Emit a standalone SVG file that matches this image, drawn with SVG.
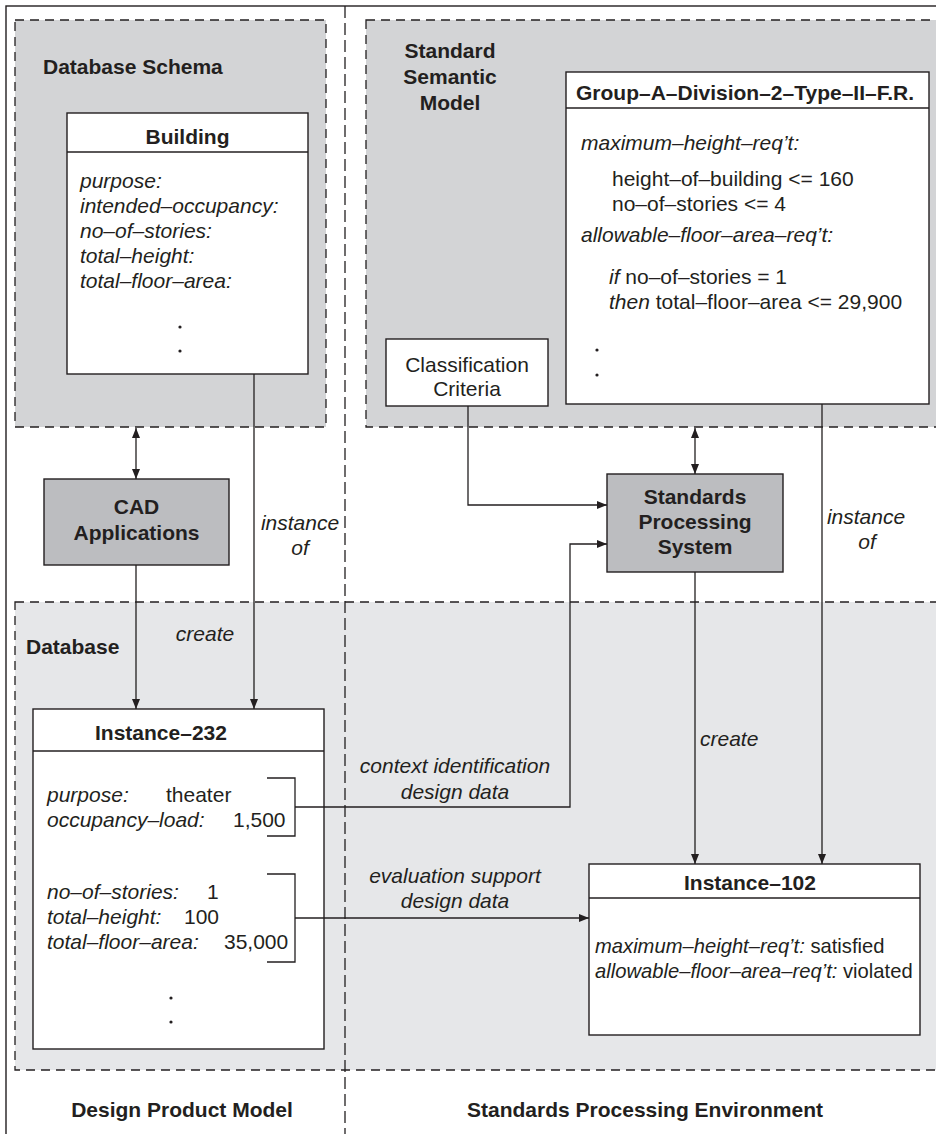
<svg xmlns="http://www.w3.org/2000/svg" width="936" height="1134" viewBox="0 0 936 1134">
  <style>
    text { font-family: "Liberation Sans", Arial, sans-serif; font-size: 21px; fill: #231f20; }
    .b { font-weight: bold; }
    .i { font-style: italic; }
    .m { text-anchor: middle; }
    .box { fill: #ffffff; stroke: #231f20; stroke-width: 1.4; }
    .proc { fill: #bcbdc0; stroke: #231f20; stroke-width: 1.4; }
    .region1 { fill: #d3d4d6; stroke: #231f20; stroke-width: 1.3; stroke-dasharray: 9 6; }
    .region2 { fill: #e6e7e9; stroke: #231f20; stroke-width: 1.3; stroke-dasharray: 9 6; }
    .divider { fill: none; stroke: #231f20; stroke-width: 1.3; stroke-dasharray: 12 5; }
    .frame { fill: none; stroke: #231f20; stroke-width: 1.4; }
    .sep { stroke: #231f20; stroke-width: 1.4; }
    .conn { fill: none; stroke: #231f20; stroke-width: 1.3; }
    .arr { marker-end: url(#ah); }
    .bi { marker-start: url(#ahs); marker-end: url(#ah); }
    .dot { fill: #231f20; }
    .small { font-size: 20.2px; }
  </style>
  <defs>
    <marker id="ah" viewBox="0 0 10 8" refX="10" refY="4" markerWidth="10" markerHeight="8" markerUnits="userSpaceOnUse" orient="auto">
      <path d="M0,0 L10,4 L0,8 Z" fill="#231f20"/>
    </marker>
    <marker id="ahs" viewBox="0 0 10 8" refX="0" refY="4" markerWidth="10" markerHeight="8" markerUnits="userSpaceOnUse" orient="auto">
      <path d="M10,0 L0,4 L10,8 Z" fill="#231f20"/>
    </marker>
  </defs>

  <rect width="936" height="1134" fill="#ffffff"/>

  <!-- outer frame -->
  <g id="frame">
    <rect class="frame" x="6" y="6" width="940" height="1140"/>
  </g>

  <!-- shaded regions -->
  <g id="database-schema">
    <rect class="region1" x="15" y="20" width="311" height="407"/>
    <text class="b" x="43" y="74">Database Schema</text>
  </g>
  <g id="standard-semantic-model">
    <rect class="region1" x="366" y="20" width="580" height="407"/>
    <text class="b m" x="450" y="58">Standard</text>
    <text class="b m" x="450" y="84">Semantic</text>
    <text class="b m" x="450" y="110">Model</text>
  </g>
  <g id="database">
    <rect class="region2" x="15" y="602" width="931" height="468"/>
    <text class="b" x="26" y="654">Database</text>
  </g>

  <!-- column divider -->
  <g id="column-divider">
    <line class="divider" x1="345" y1="6" x2="345" y2="1134"/>
  </g>

  <!-- Building class -->
  <g id="building">
    <rect class="box" x="67" y="113" width="241" height="261"/>
    <line class="sep" x1="67" y1="152" x2="308" y2="152"/>
    <text class="b m" x="187.5" y="144">Building</text>
    <text class="i" x="80" y="188">purpose:</text>
    <text class="i" x="80" y="213">intended–occupancy:</text>
    <text class="i" x="80" y="238">no–of–stories:</text>
    <text class="i" x="80" y="263">total–height:</text>
    <text class="i" x="80" y="288">total–floor–area:</text>
    <circle class="dot" cx="180" cy="327" r="1.6"/>
    <circle class="dot" cx="180" cy="351" r="1.6"/>
  </g>

  <!-- Group-A-Division-2-Type-II-F.R. standard -->
  <g id="group-a-division">
    <rect class="box" x="566" y="72" width="363" height="332"/>
    <line class="sep" x1="566" y1="108" x2="929" y2="108"/>
    <text class="b m" x="745" y="100">Group–A–Division–2–Type–II–F.R.</text>
    <text class="i" x="581" y="150">maximum–height–req’t:</text>
    <text x="612" y="186">height–of–building &lt;= 160</text>
    <text x="612" y="211">no–of–stories &lt;= 4</text>
    <text class="i" x="581" y="242">allowable–floor–area–req’t:</text>
    <text x="609" y="284"><tspan font-style="italic">if</tspan> no–of–stories = 1</text>
    <text x="609" y="309"><tspan font-style="italic">then</tspan> total–floor–area &lt;= 29,900</text>
    <circle class="dot" cx="597" cy="350" r="1.6"/>
    <circle class="dot" cx="597" cy="375" r="1.6"/>
  </g>

  <!-- Classification Criteria -->
  <g id="classification-criteria">
    <rect class="box" x="386" y="339" width="162" height="67"/>
    <text class="m" x="467" y="372">Classification</text>
    <text class="m" x="467" y="396">Criteria</text>
  </g>

  <!-- CAD Applications -->
  <g id="cad-applications">
    <rect class="proc" x="44" y="479" width="185" height="86"/>
    <text class="b m" x="136.5" y="514">CAD</text>
    <text class="b m" x="136.5" y="540">Applications</text>
  </g>

  <!-- Standards Processing System -->
  <g id="standards-processing-system">
    <rect class="proc" x="607" y="474" width="176" height="98"/>
    <text class="b m" x="695" y="504">Standards</text>
    <text class="b m" x="695" y="529">Processing</text>
    <text class="b m" x="695" y="554">System</text>
  </g>

  <!-- Instance-232 -->
  <g id="instance-232">
    <rect class="box" x="33" y="709" width="291" height="340"/>
    <line class="sep" x1="33" y1="751" x2="324" y2="751"/>
    <text class="b m" x="161" y="740">Instance–232</text>
    <text class="i" x="47" y="802">purpose:</text>
    <text x="166" y="802">theater</text>
    <text class="i" x="47" y="827">occupancy–load:</text>
    <text x="233" y="827">1,500</text>
    <text class="i" x="47" y="899">no–of–stories:</text>
    <text x="207" y="899">1</text>
    <text class="i" x="47" y="924">total–height:</text>
    <text x="184" y="924">100</text>
    <text class="i" x="47" y="949">total–floor–area:</text>
    <text x="224" y="949">35,000</text>
    <circle class="dot" cx="171" cy="998" r="1.6"/>
    <circle class="dot" cx="171" cy="1022" r="1.6"/>
    <polyline class="conn" points="267,778 295,778 295,836 267,836"/>
    <polyline class="conn" points="267,874 295,874 295,962 267,962"/>
  </g>

  <!-- Instance-102 -->
  <g id="instance-102">
    <rect class="box" x="589" y="864" width="331" height="171"/>
    <line class="sep" x1="589" y1="898" x2="920" y2="898"/>
    <text class="b m" x="750" y="890">Instance–102</text>
    <text class="small" x="595" y="953"><tspan font-style="italic">maximum–height–req’t:</tspan> satisfied</text>
    <text class="small" x="595" y="978"><tspan font-style="italic">allowable–floor–area–req’t:</tspan> violated</text>
  </g>

  <!-- connectors -->
  <g id="connectors">
    <line class="conn bi" x1="136" y1="428" x2="136" y2="479"/>
    <line class="conn arr" x1="136" y1="565" x2="136" y2="709"/>
    <line class="conn arr" x1="254" y1="374" x2="254" y2="709"/>
    <line class="conn bi" x1="695" y1="428" x2="695" y2="474"/>
    <polyline class="conn arr" points="468,406 468,505 607,505"/>
    <polyline class="conn arr" points="295,807 570,807 570,544 607,544"/>
    <line class="conn arr" x1="295" y1="918" x2="589" y2="918"/>
    <line class="conn arr" x1="695" y1="572" x2="695" y2="864"/>
    <line class="conn arr" x1="822" y1="404" x2="822" y2="864"/>
  </g>

  <!-- connector labels -->
  <g id="connector-labels">
    <text class="i m" x="300" y="530">instance</text>
    <text class="i m" x="300" y="555">of</text>
    <text class="i m" x="205" y="641">create</text>
    <text class="i m" x="866" y="524">instance</text>
    <text class="i m" x="867" y="549">of</text>
    <text class="i" x="700" y="746">create</text>
    <text class="i m" x="455" y="773">context identification</text>
    <text class="i m" x="455" y="799">design data</text>
    <text class="i m" x="455" y="883">evaluation support</text>
    <text class="i m" x="455" y="908">design data</text>
  </g>

  <!-- column titles -->
  <g id="column-titles">
    <text class="b m" x="182" y="1117">Design Product Model</text>
    <text class="b m" x="645" y="1117">Standards Processing Environment</text>
  </g>
</svg>
